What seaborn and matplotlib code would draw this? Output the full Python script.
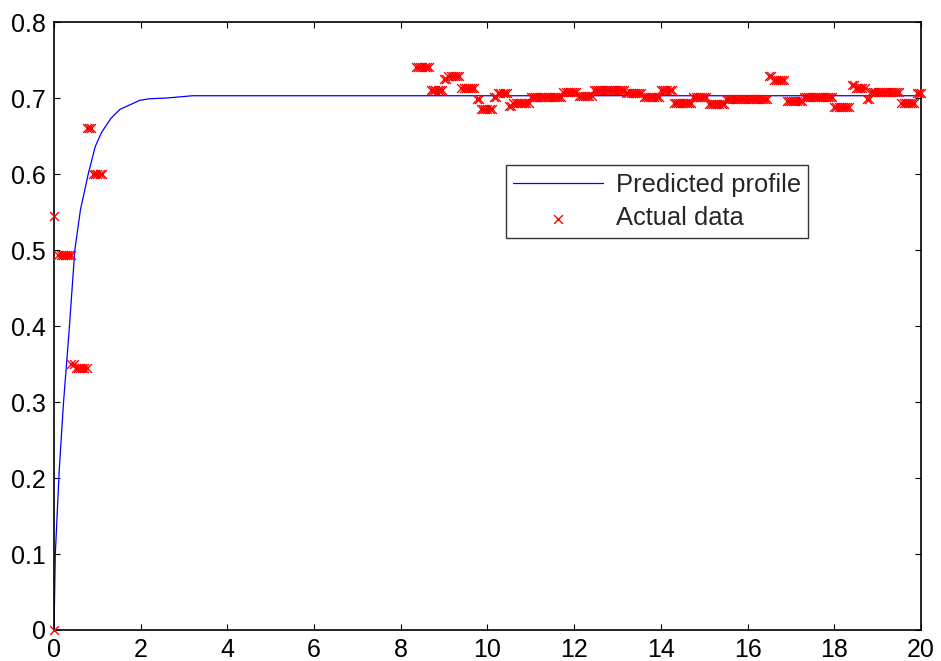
import matplotlib
matplotlib.use("Agg")
import matplotlib.pyplot as plt
import seaborn as sns
import pandas as pd

# Predicted profile
pred_t = [0.0, 0.03, 0.12, 0.22, 0.35, 0.48, 0.61, 0.79, 0.95, 1.10, 1.31, 1.52,
          1.75, 1.98, 2.20, 2.60, 3.00, 3.20, 20.0]
pred_y = [0.0, 0.10, 0.21, 0.30, 0.395, 0.50, 0.553, 0.60, 0.636, 0.655, 0.673, 0.685,
          0.691, 0.697, 0.699, 0.700, 0.702, 0.703, 0.703]

# Actual data - early part
early_t = [0.0, 0.0, 0.10, 0.15, 0.20, 0.25, 0.30, 0.35, 0.40, 0.40, 0.45,
           0.50, 0.55, 0.60, 0.65, 0.70, 0.75, 0.75, 0.80, 0.85,
           0.90, 0.95, 1.00, 1.05, 1.10]
early_y = [0.0, 0.545, 0.493, 0.493, 0.493, 0.493, 0.493, 0.493, 0.493, 0.350, 0.350,
           0.345, 0.345, 0.345, 0.345, 0.345, 0.345, 0.661, 0.661, 0.661,
           0.600, 0.600, 0.600, 0.600, 0.600]

# Actual data - late part
late_t = [8.35, 8.40, 8.45, 8.50, 8.55, 8.60, 8.65, 8.70, 8.75, 8.80,
          8.85, 8.90, 8.95, 9.00, 9.05, 9.10, 9.15, 9.20, 9.25, 9.30,
          9.35, 9.40, 9.45, 9.50, 9.55, 9.60, 9.65, 9.70, 9.75, 9.80,
          9.85, 9.90, 9.95, 10.00, 10.05, 10.10, 10.15, 10.20, 10.25, 10.30,
          10.35, 10.40, 10.45, 10.50, 10.55, 10.60, 10.65, 10.70, 10.75, 10.80,
          10.85, 10.90, 10.95, 11.00, 11.05, 11.10, 11.15, 11.20, 11.25, 11.30,
          11.35, 11.40, 11.45, 11.50, 11.55, 11.60, 11.65, 11.70, 11.75, 11.80,
          11.85, 11.90, 11.95, 12.00, 12.05, 12.10, 12.15, 12.20, 12.25, 12.30,
          12.35, 12.40, 12.45, 12.50, 12.55, 12.60, 12.65, 12.70, 12.75, 12.80,
          12.85, 12.90, 12.95, 13.00, 13.05, 13.10, 13.15, 13.20, 13.25, 13.30,
          13.35, 13.40, 13.45, 13.50, 13.55, 13.60, 13.65, 13.70, 13.75, 13.80,
          13.85, 13.90, 13.95, 14.00, 14.05, 14.10, 14.15, 14.20, 14.25, 14.30,
          14.35, 14.40, 14.45, 14.50, 14.55, 14.60, 14.65, 14.70, 14.75, 14.80,
          14.85, 14.90, 14.95, 15.00, 15.05, 15.10, 15.15, 15.20, 15.25, 15.30,
          15.35, 15.40, 15.45, 15.50, 15.55, 15.60, 15.65, 15.70, 15.75, 15.80,
          15.85, 15.90, 15.95, 16.00, 16.05, 16.10, 16.15, 16.20, 16.25, 16.30,
          16.35, 16.40, 16.45, 16.50, 16.55, 16.60, 16.65, 16.70, 16.75, 16.80,
          16.85, 16.90, 16.95, 17.00, 17.05, 17.10, 17.15, 17.20, 17.25, 17.30,
          17.35, 17.40, 17.45, 17.50, 17.55, 17.60, 17.65, 17.70, 17.75, 17.80,
          17.85, 17.90, 17.95, 18.00, 18.05, 18.10, 18.15, 18.20, 18.25, 18.30,
          18.35, 18.40, 18.45, 18.50, 18.55, 18.60, 18.65, 18.70, 18.75, 18.80,
          18.85, 18.90, 18.95, 19.00, 19.05, 19.10, 19.15, 19.20, 19.25, 19.30,
          19.35, 19.40, 19.45, 19.50, 19.55, 19.60, 19.65, 19.70, 19.75, 19.80,
          19.85, 19.90, 19.95, 20.00]
late_y = [0.741, 0.741, 0.741, 0.741, 0.741, 0.741, 0.741, 0.710, 0.710, 0.710,
          0.710, 0.710, 0.710, 0.725, 0.725, 0.729, 0.729, 0.729, 0.729, 0.729,
          0.729, 0.713, 0.713, 0.713, 0.713, 0.713, 0.713, 0.713, 0.699, 0.699,
          0.685, 0.685, 0.685, 0.685, 0.685, 0.685, 0.701, 0.701, 0.706, 0.706,
          0.706, 0.706, 0.706, 0.690, 0.690, 0.694, 0.694, 0.694, 0.694, 0.694,
          0.694, 0.694, 0.694, 0.701, 0.701, 0.701, 0.701, 0.701, 0.701, 0.701,
          0.701, 0.701, 0.701, 0.701, 0.701, 0.701, 0.701, 0.701, 0.708, 0.708,
          0.708, 0.708, 0.708, 0.708, 0.708, 0.703, 0.703, 0.703, 0.703, 0.703,
          0.703, 0.703, 0.710, 0.710, 0.710, 0.710, 0.710, 0.710, 0.710, 0.710,
          0.710, 0.710, 0.710, 0.710, 0.710, 0.710, 0.710, 0.706, 0.706, 0.706,
          0.706, 0.706, 0.706, 0.706, 0.706, 0.701, 0.701, 0.701, 0.701, 0.701,
          0.701, 0.701, 0.701, 0.710, 0.710, 0.710, 0.710, 0.710, 0.710, 0.694,
          0.694, 0.694, 0.694, 0.694, 0.694, 0.694, 0.694, 0.694, 0.701, 0.701,
          0.701, 0.701, 0.701, 0.701, 0.701, 0.692, 0.692, 0.692, 0.692, 0.692,
          0.692, 0.692, 0.692, 0.699, 0.699, 0.699, 0.699, 0.699, 0.699, 0.699,
          0.699, 0.699, 0.699, 0.699, 0.699, 0.699, 0.699, 0.699, 0.699, 0.699,
          0.699, 0.699, 0.699, 0.729, 0.729, 0.724, 0.724, 0.724, 0.724, 0.724,
          0.724, 0.696, 0.696, 0.696, 0.696, 0.696, 0.696, 0.696, 0.696, 0.701,
          0.701, 0.701, 0.701, 0.701, 0.701, 0.701, 0.701, 0.701, 0.701, 0.701,
          0.701, 0.701, 0.701, 0.688, 0.688, 0.688, 0.688, 0.688, 0.688, 0.688,
          0.688, 0.717, 0.717, 0.713, 0.713, 0.713, 0.713, 0.713, 0.699, 0.699,
          0.708, 0.708, 0.708, 0.708, 0.708, 0.708, 0.708, 0.708, 0.708, 0.708,
          0.708, 0.708, 0.708, 0.708, 0.693, 0.693, 0.693, 0.693, 0.693, 0.693,
          0.693, 0.706, 0.706, 0.706]

x_ticks = [0, 2, 4, 6, 8, 10, 12, 14, 16, 18, 20]
y_ticks = [0, 0.1, 0.2, 0.3, 0.4, 0.5, 0.6, 0.7, 0.8]
x_ticklabels = ["0", "2", "4", "6", "8", "10", "12", "14", "16", "18", "20"]
y_ticklabels = ["0", "0.1", "0.2", "0.3", "0.4", "0.5", "0.6", "0.7", "0.8"]

sns.set_style("white")
plt.rcParams["font.family"] = ["Liberation Sans", "DejaVu Sans"]

fig = plt.figure(figsize=(9.41, 6.61), dpi=100)
ax = fig.add_axes([0.0574, 0.0469, 0.9213, 0.9198])

pred_df = pd.DataFrame({"t": pred_t, "y": pred_y})
act_df = pd.DataFrame({"t": early_t + late_t, "y": early_y + late_y})

sns.lineplot(data=pred_df, x="t", y="y", sort=False, color="#0000ff",
             linewidth=0.9, ax=ax, label="Predicted profile")
sns.scatterplot(data=act_df, x="t", y="y", marker="x", color="#ff0000",
                s=40, linewidth=1.0, ax=ax, label="Actual data",
                clip_on=False, zorder=3)

ax.set_xlim(0, 20)
ax.set_ylim(0, 0.8)
ax.set_xticks(x_ticks)
ax.set_xticklabels(x_ticklabels)
ax.set_yticks(y_ticks)
ax.set_yticklabels(y_ticklabels)
ax.set_xlabel("")
ax.set_ylabel("")

for sp in ax.spines.values():
    sp.set_visible(True)
    sp.set_color("black")
    sp.set_linewidth(1.2)

ax.tick_params(axis="both", which="both", direction="in", length=4.5, width=0.8,
               color="black", labelsize=18, labelcolor="black", pad=6,
               top=True, right=True, bottom=True, left=True)

leg = ax.legend(loc="upper left", bbox_to_anchor=(0.521, 0.765), fontsize=18.4,
                frameon=True, fancybox=False, edgecolor="black",
                handlelength=3.5, handletextpad=0.5, borderpad=0.3,
                labelspacing=0.38, borderaxespad=0.0)
leg.get_frame().set_linewidth(1.0)

fig.savefig("out.png", dpi=100)
